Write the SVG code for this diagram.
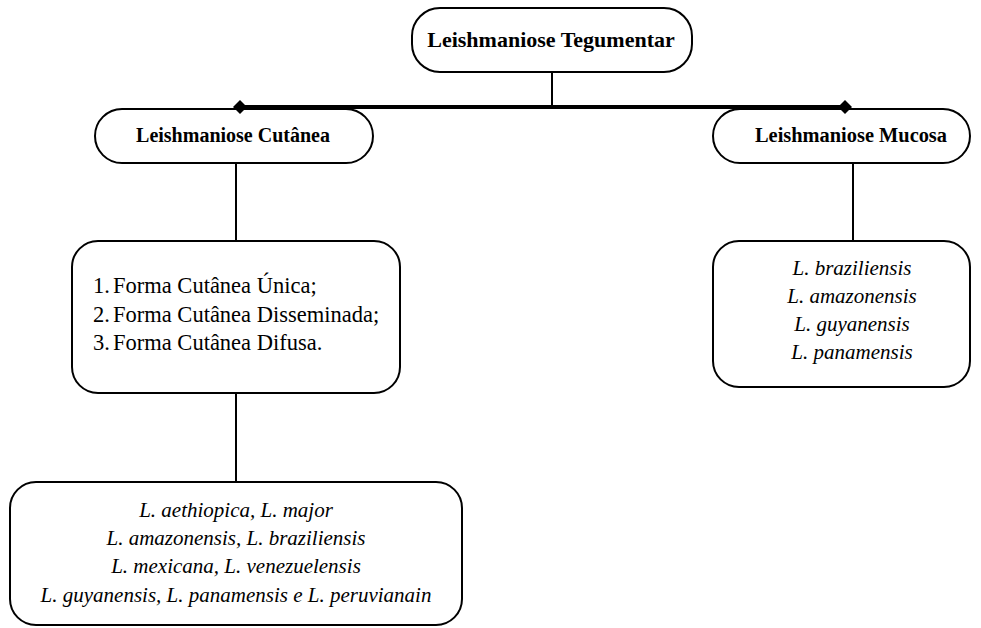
<svg xmlns="http://www.w3.org/2000/svg" width="981" height="628" viewBox="0 0 981 628">
<style>
.box{fill:#fff;stroke:#000;stroke-width:2}
.hdr{font-family:"Liberation Serif","Times New Roman",serif;font-weight:bold;font-size:20px;fill:#000;text-anchor:middle}
.lst{font-family:"Liberation Serif","Times New Roman",serif;font-size:22.5px;fill:#000}
.sp{font-family:"Liberation Serif","Times New Roman",serif;font-style:italic;font-size:21px;fill:#000;text-anchor:middle}
.ln{stroke:#000;stroke-width:2;fill:none}
</style>
<rect width="981" height="628" fill="#fff"/>
<g id="connectors">
<line class="ln" x1="552" y1="72" x2="552" y2="107"/>
<line x1="240" y1="107" x2="845" y2="107" stroke="#000" stroke-width="4"/>
<line class="ln" x1="236" y1="163" x2="236" y2="241"/>
<line class="ln" x1="236" y1="393" x2="236" y2="482"/>
<line class="ln" x1="853" y1="163" x2="853" y2="241"/>
</g>
<g id="n-tegumentar">
<rect class="box" x="412" y="8" width="280" height="64" rx="28"/>
<text class="hdr" x="551" y="47" style="font-size:22px">Leishmaniose Tegumentar</text>
</g>
<g id="n-cutanea">
<rect class="box" x="95" y="109" width="278" height="54" rx="27"/>
<text class="hdr" x="233" y="142">Leishmaniose Cutânea</text>
</g>
<g id="n-mucosa">
<rect class="box" x="713" y="109" width="257" height="54" rx="27"/>
<text class="hdr" x="851" y="142" style="font-size:20.4px">Leishmaniose Mucosa</text>
</g>
<g id="diamonds">
<polygon points="240,100 247,107 240,114 233,107" fill="#000"/>
<polygon points="845,100 852,107 845,114 838,107" fill="#000"/>
</g>
<g id="n-formas">
<rect class="box" x="72" y="241" width="328" height="152" rx="26"/>
<text class="lst" x="93" y="293">1.</text><text class="lst" x="113" y="293">Forma Cutânea Única;</text>
<text class="lst" x="93" y="322">2.</text><text class="lst" x="113" y="322">Forma Cutânea Disseminada;</text>
<text class="lst" x="93" y="350">3.</text><text class="lst" x="113" y="350">Forma Cutânea Difusa.</text>
</g>
<g id="n-mucosa-especies">
<rect class="box" x="713" y="241" width="257" height="146" rx="26"/>
<text class="sp" x="852" y="275">L. braziliensis</text>
<text class="sp" x="852" y="303">L. amazonensis</text>
<text class="sp" x="852" y="331">L. guyanensis</text>
<text class="sp" x="852" y="359">L. panamensis</text>
</g>
<g id="n-cutanea-especies">
<rect class="box" x="10" y="482" width="452" height="143" rx="26"/>
<text class="sp" x="236" y="517">L. aethiopica, L. major</text>
<text class="sp" x="236" y="545">L. amazonensis, L. braziliensis</text>
<text class="sp" x="236" y="573">L. mexicana, L. venezuelensis</text>
<text class="sp" x="236" y="602">L. guyanensis, L. panamensis e L. peruvianain</text>
</g>
</svg>
